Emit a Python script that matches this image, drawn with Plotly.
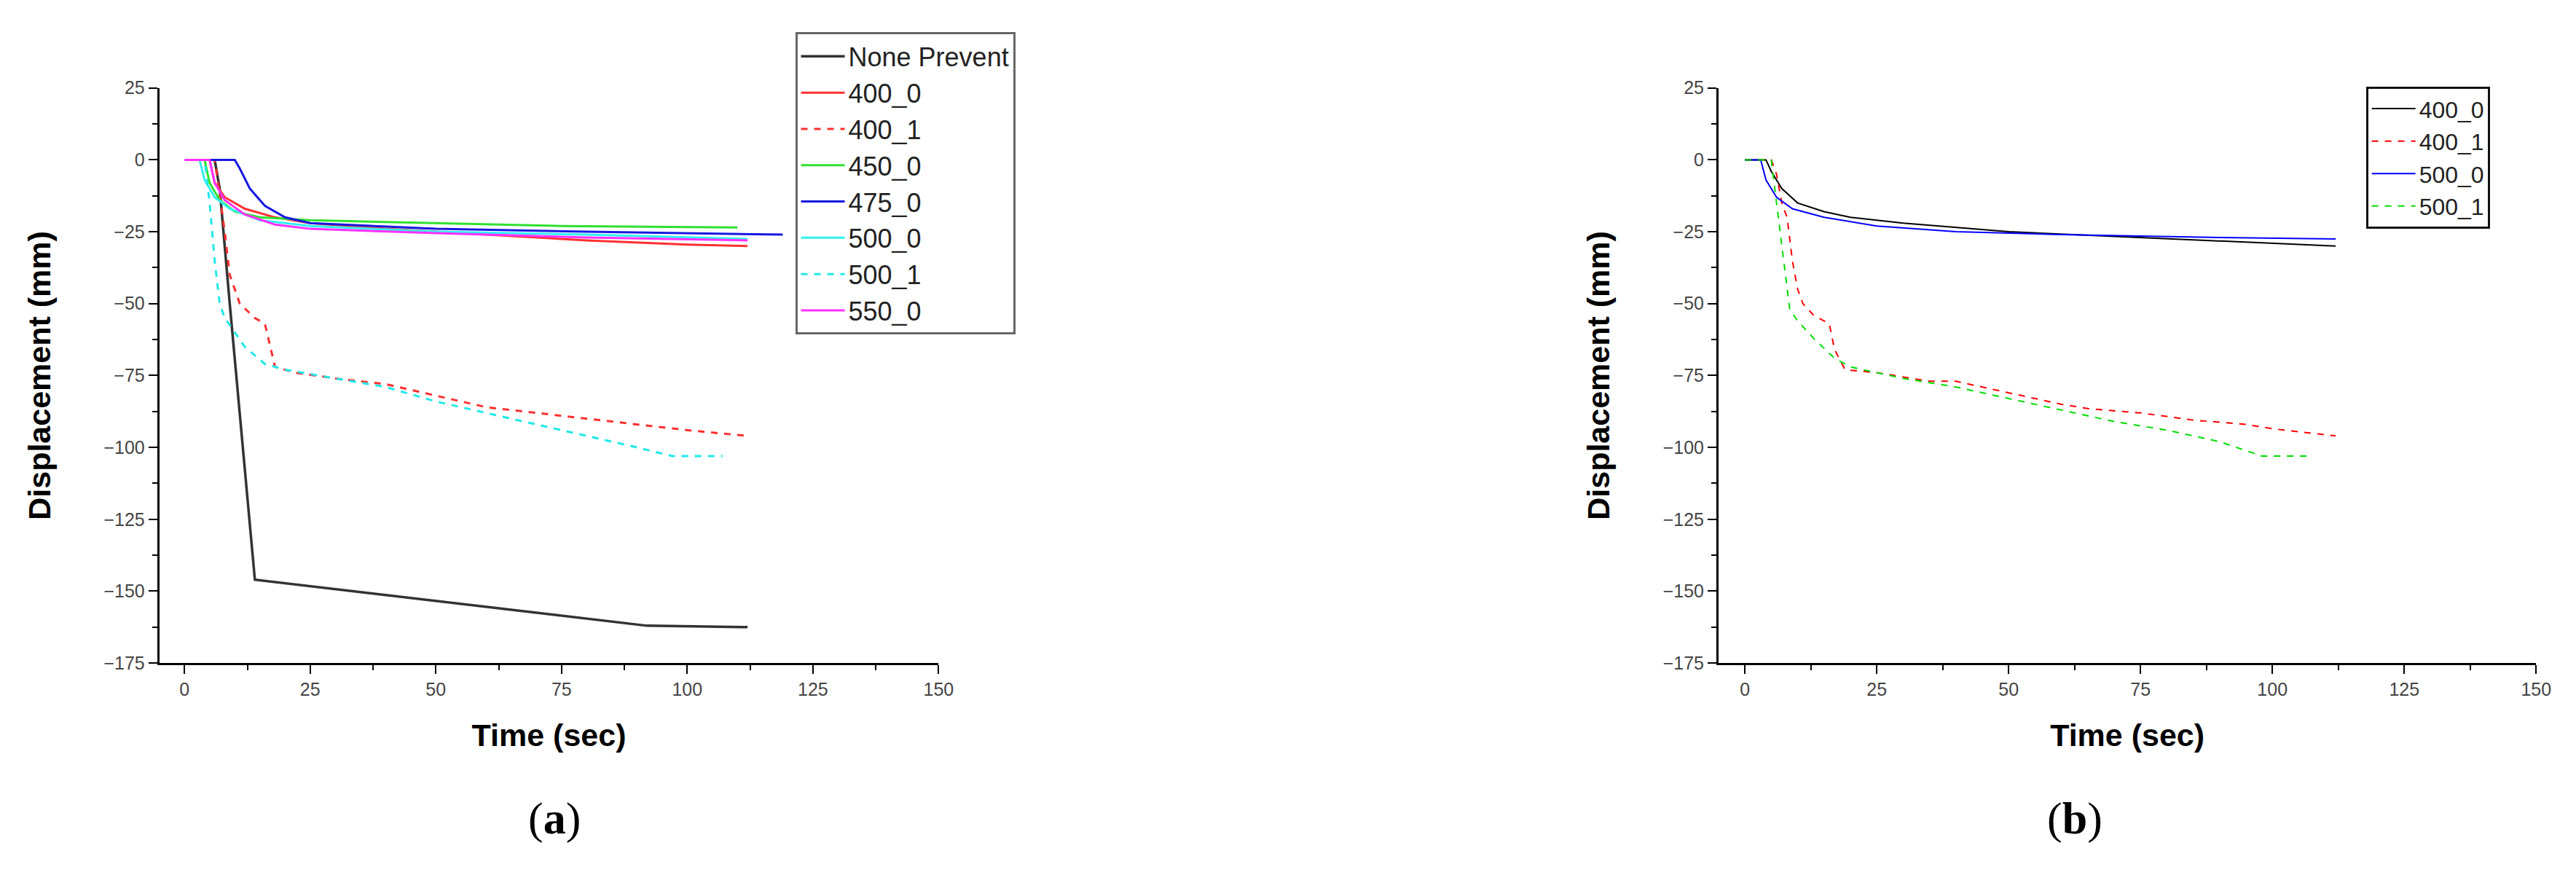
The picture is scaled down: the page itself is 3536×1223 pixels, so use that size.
import plotly.graph_objects as go

W, H = 3536, 1223

# Panel (a)
a_none_x = [6, 7, 9, 14, 92, 112]
a_none_y = [0, -10, -50, -146, -162, -162.5]
a_400_0_x = [0, 5, 6, 8, 12, 18, 25, 40, 60, 80, 100, 112]
a_400_0_y = [0, 0, -8, -13, -17, -20, -22, -24, -26, -28, -29.5, -30]
a_400_1_x = [0, 6, 7, 8, 9, 11, 14, 16, 18, 22, 30, 40, 50, 60, 70, 80, 90, 100, 112]
a_400_1_y = [0, 0, -12, -25, -40, -50, -55, -57, -72, -74, -76, -78, -82, -86, -88, -90, -92, -94, -96]
a_450_0_x = [0, 4, 5, 7, 10, 15, 25, 50, 75, 110]
a_450_0_y = [0, 0, -8, -14, -18, -20, -21, -22, -23, -23.5]
a_475_0_x = [0, 10, 11, 13, 16, 20, 25, 50, 80, 100, 119]
a_475_0_y = [0, 0, -3, -10, -16, -20, -22, -24, -25, -25.5, -26]
a_500_0_x = [0, 3, 4, 6, 9, 15, 25, 50, 80, 100, 112]
a_500_0_y = [0, 0, -7, -13, -17, -21, -23, -25, -26, -27, -27.5]
a_500_1_x = [0, 4, 5, 6, 7, 8, 12, 16, 20, 30, 40, 50, 60, 70, 80, 90, 97, 107]
a_500_1_y = [0, 0, -15, -35, -50, -55, -65, -71, -73, -76, -79, -84, -88, -92, -96, -100, -103, -103]
a_550_0_x = [0, 5, 6, 8, 12, 18, 25, 50, 80, 112]
a_550_0_y = [0, 0, -8, -14, -19, -22.5, -24, -25.5, -27, -28]

# Panel (b)
b_400_0_x = [0, 4, 5, 7, 10, 15, 20, 30, 50, 75, 100, 112]
b_400_0_y = [0, 0, -4, -10, -15, -18, -20, -22, -25, -27, -29, -30]
b_400_1_x = [0, 5, 6, 7, 8, 9, 10, 11, 13, 16, 17, 19, 25, 35, 40, 50, 60, 65, 75, 85, 95, 100, 112]
b_400_1_y = [0, 0, -5, -15, -20, -35, -45, -50, -54, -57, -66, -73, -74, -77, -77, -81, -85, -86.5, -88, -90.5, -92, -93.5, -96]
b_500_0_x = [0, 3, 4, 6, 9, 15, 25, 40, 60, 90, 112]
b_500_0_y = [0, 0, -7, -13, -17, -20, -23, -25, -26, -27, -27.5]
b_500_1_x = [0, 5, 6, 7, 8, 8.5, 10, 13, 17, 20, 30, 40, 50, 60, 70, 80, 90, 98, 107]
b_500_1_y = [0, 0, -15, -30, -45, -52, -56, -62, -69, -72, -76, -79, -83, -87, -91, -94, -98, -103, -103]

fig = go.Figure()

def add(x, y, name, color, dash, xa, ya, leg, width=3):
    fig.add_trace(go.Scatter(x=x, y=y, name=name, mode="lines",
                             line=dict(color=color, dash=dash, width=width),
                             xaxis=xa, yaxis=ya, legend=leg))

add(a_none_x, a_none_y, "None Prevent", "#333333", "solid", "x", "y", "legend", 3.5)
add(a_400_0_x, a_400_0_y, "400_0", "#ff3030", "solid", "x", "y", "legend")
add(a_400_1_x, a_400_1_y, "400_1", "#ff3030", "dash", "x", "y", "legend")
add(a_450_0_x, a_450_0_y, "450_0", "#30e030", "solid", "x", "y", "legend")
add(a_475_0_x, a_475_0_y, "475_0", "#1818e0", "solid", "x", "y", "legend")
add(a_500_0_x, a_500_0_y, "500_0", "#30f0f0", "solid", "x", "y", "legend")
add(a_500_1_x, a_500_1_y, "500_1", "#20e8e8", "dash", "x", "y", "legend")
add(a_550_0_x, a_550_0_y, "550_0", "#ff30ff", "solid", "x", "y", "legend")

add(b_400_0_x, b_400_0_y, "400_0", "#000000", "solid", "x2", "y2", "legend2", 2)
add(b_400_1_x, b_400_1_y, "400_1", "#ff0000", "dash", "x2", "y2", "legend2", 2)
add(b_500_0_x, b_500_0_y, "500_0", "#0000ff", "solid", "x2", "y2", "legend2", 2)
add(b_500_1_x, b_500_1_y, "500_1", "#00dd00", "dash", "x2", "y2", "legend2", 2)

ytop, ybot = 101, 909
ydom = [1 - ybot / H, 1 - ytop / H]
tickfont = dict(family="Liberation Sans, Arial", size=25, color="#444444")
titlefont = dict(family="Liberation Sans, Arial", size=43, color="#000000", weight="bold")

def xax(dom):
    return dict(domain=dom, range=[-5, 150], tickvals=[0, 25, 50, 75, 100, 125, 150],
                showline=True, linecolor="black", linewidth=3, ticks="outside",
                ticklen=12, tickwidth=2, tickcolor="black", showgrid=False, zeroline=False,
                tickfont=tickfont, minor=dict(dtick=12.5, ticks="outside", ticklen=7, tickcolor="black"),
                title=dict(text="Time (sec)", font=titlefont, standoff=35))

def yax(anchor):
    return dict(domain=ydom, range=[-175, 25], tickvals=list(range(-175, 26, 25)),
                showline=True, linecolor="black", linewidth=3, ticks="outside",
                ticklen=12, tickwidth=2, tickcolor="black", showgrid=False, zeroline=False,
                tickfont=tickfont, anchor=anchor,
                minor=dict(dtick=12.5, ticks="outside", ticklen=7, tickcolor="black"),
                title=dict(text="Displacement (mm)", font=titlefont, standoff=60))

fig.update_layout(
    width=W, height=H, plot_bgcolor="white", paper_bgcolor="white",
    margin=dict(l=0, r=0, t=0, b=0),
    xaxis=dict(xax([212 / W, 1288 / W]), anchor="y"),
    yaxis=yax("x"),
    xaxis2=dict(xax([2365 / W, 3494 / W]), anchor="y2"),
    yaxis2=yax("x2"),
    legend=dict(x=1090 / W, y=1 - 23 / H, xanchor="left", yanchor="top",
                bordercolor="#666666", borderwidth=3, bgcolor="white",
                font=dict(family="Liberation Sans, Arial", size=36, color="#222222"),
                tracegroupgap=0, itemwidth=60),
    legend2=dict(x=3259 / W, y=1 - 99 / H, xanchor="left", yanchor="top",
                 bordercolor="#111111", borderwidth=3, bgcolor="white",
                 font=dict(family="Liberation Sans, Arial", size=32, color="#222222"),
                 tracegroupgap=0, itemwidth=60),
    showlegend=True,
)

for txt, xc in [("(<b>a</b>)", 719), ("(<b>b</b>)", 2897)]:
    fig.add_annotation(text=txt, x=xc / W, y=1 - 1165 / H, xref="paper", yref="paper",
                       showarrow=False, font=dict(family="Liberation Serif, Times New Roman", size=62, color="black"))

fig.write_html("out.html")
